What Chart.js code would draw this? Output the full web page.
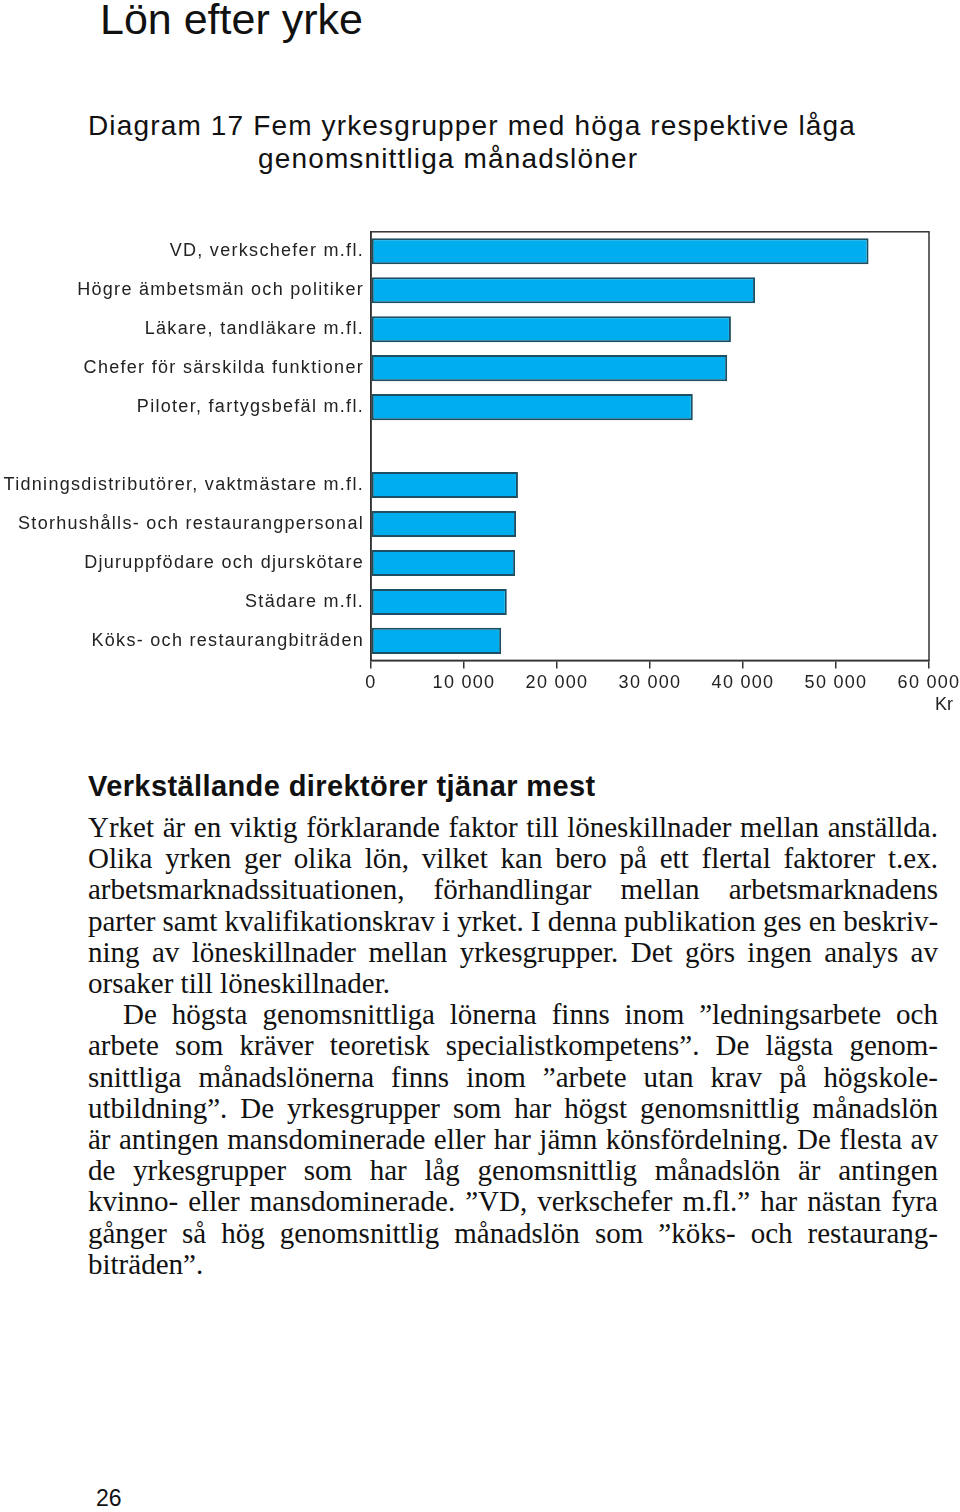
<!DOCTYPE html>
<html lang="sv">
<head>
<meta charset="utf-8">
<script src="https://cdn.jsdelivr.net/npm/chart.js@4/dist/chart.umd.min.js"></script>
<style>
  html, body { margin: 0; padding: 0; background: #fff; }
  body { width: 960px; height: 1512px; position: relative; overflow: hidden; color: #111; }
  .abs { position: absolute; white-space: nowrap; }
  #title { left: 100px; top: -5px; font: 43px 'Liberation Sans Narrow', 'Liberation Sans', Arial, sans-serif; color: #111; }
  .cap { font: 28px 'Liberation Sans', Arial, sans-serif; letter-spacing: 1.15px; color: #111; }
  #chartBox { position: absolute; left: 0; top: 214px; width: 960px; height: 484px; }
  #kr { right: 7px; top: 694px; font: 18px 'Liberation Sans', Arial, sans-serif; color: #222; }
  #head { left: 88px; top: 770px; font: bold 29px 'Liberation Sans', Arial, sans-serif; letter-spacing: 0.4px; color: #111; }
  #text { position: absolute; left: 88px; top: 812px; width: 850px; font: 29px 'Liberation Serif', 'DejaVu Serif', serif; line-height: 31.2px; color: #111; }
  .ln { white-space: nowrap; text-align: justify; text-align-last: justify; }
  .ln.last { text-align-last: left; }
  .ln.ind { padding-left: 35px; }
  #page { left: 96px; top: 1485px; font: 23px 'Liberation Sans', Arial, sans-serif; color: #111; }
</style>
</head>
<body>
<div id="title" class="abs">Lön efter yrke</div>
<div class="abs cap" style="left:88px; top:110px;">Diagram 17 Fem yrkesgrupper med höga respektive låga</div>
<div class="abs cap" style="left:258px; top:143px;">genomsnittliga månadslöner</div>

<div id="chartBox"><canvas id="lonChart"></canvas></div>
<div id="kr" class="abs">Kr</div>

<div id="head" class="abs">Verkställande direktörer tjänar mest</div>
<div id="text">
  <div class="ln"><span>Yrket är en viktig förklarande faktor till löneskillnader mellan anställda.</span></div>
  <div class="ln"><span>Olika yrken ger olika lön, vilket kan bero på ett flertal faktorer t.ex.</span></div>
  <div class="ln"><span>arbetsmarknadssituationen, förhandlingar mellan arbetsmarknadens</span></div>
  <div class="ln"><span>parter samt kvalifikationskrav i yrket. I denna publikation ges en beskriv-</span></div>
  <div class="ln"><span>ning av löneskillnader mellan yrkesgrupper. Det görs ingen analys av</span></div>
  <div class="ln last"><span>orsaker till löneskillnader.</span></div>
  <div class="ln ind"><span>De högsta genomsnittliga lönerna finns inom ”ledningsarbete och</span></div>
  <div class="ln"><span>arbete som kräver teoretisk specialistkompetens”. De lägsta genom-</span></div>
  <div class="ln"><span>snittliga månadslönerna finns inom ”arbete utan krav på högskole-</span></div>
  <div class="ln"><span>utbildning”. De yrkesgrupper som har högst genomsnittlig månadslön</span></div>
  <div class="ln"><span>är antingen mansdominerade eller har jämn könsfördelning. De flesta av</span></div>
  <div class="ln"><span>de yrkesgrupper som har låg genomsnittlig månadslön är antingen</span></div>
  <div class="ln"><span>kvinno- eller mansdominerade. ”VD, verkschefer m.fl.” har nästan fyra</span></div>
  <div class="ln"><span>gånger så hög genomsnittlig månadslön som ”köks- och restaurang-</span></div>
  <div class="ln last"><span>biträden”.</span></div>
</div>
<div id="page" class="abs">26</div>

<script>
// yrkesgrupper, tom rad mellan höga och låga
const yrken = [
  'VD, verkschefer m.fl.',
  'Högre ämbetsmän och politiker',
  'Läkare, tandläkare m.fl.',
  'Chefer för särskilda funktioner',
  'Piloter, fartygsbefäl m.fl.',
  '',
  'Tidningsdistributörer, vaktmästare m.fl.',
  'Storhushålls- och restaurangpersonal',
  'Djuruppfödare och djurskötare',
  'Städare m.fl.',
  'Köks- och restaurangbiträden'
];
// genomsnittlig månadslön, kr
const manadslon = [53500, 41300, 38700, 38300, 34600, null, 15800, 15600, 15500, 14600, 14000];
const xTicks = [0, 10000, 20000, 30000, 40000, 50000, 60000];

const fmt = v => String(v).replace(/\B(?=(\d{3})+(?!\d))/g, ' ');

// ram runt diagramytan + lite glesare text som i originalet
const framePlugin = {
  id: 'frame',
  beforeLayout(chart) { chart.ctx.letterSpacing = '1.3px'; },
  beforeDraw(chart) { chart.ctx.letterSpacing = '1.3px'; },
  afterDraw(chart) {
    const { ctx, chartArea: a } = chart;
    ctx.save();
    ctx.strokeStyle = '#333';
    ctx.lineWidth = 1.5;
    ctx.strokeRect(a.left, a.top, a.right - a.left, a.bottom - a.top);
    ctx.restore();
  }
};

window.onload = function() {
  // justera textrader till full bredd
  document.querySelectorAll('#text .ln').forEach(ln => {
    const span = ln.querySelector('span');
    const avail = ln.clientWidth - (ln.classList.contains('ind') ? 35 : 0);
    const w = span.getBoundingClientRect().width;
    if (w > avail) span.style.letterSpacing = ((avail - w) / span.textContent.length) + 'px';
  });

  new Chart(document.getElementById('lonChart').getContext('2d'), {
    type: 'bar',
    data: {
      labels: yrken,
      datasets: [{
        data: manadslon,
        backgroundColor: '#00aeef',
        borderColor: '#1d4f63',
        borderWidth: 2,
        borderSkipped: false,
        barPercentage: 0.67,
        categoryPercentage: 1
      }]
    },
    plugins: [framePlugin],
    options: {
      indexAxis: 'y',
      responsive: true,
      maintainAspectRatio: false,
      animation: false,
      layout: { padding: { top: 6, left: 0, right: 0, bottom: 0 } },
      plugins: { legend: { display: false }, tooltip: { enabled: false } },
      scales: {
        x: {
          min: 0, max: 60000,
          afterBuildTicks: s => { s.ticks = xTicks.map(v => ({ value: v })); },
          afterFit: s => { s.paddingRight = 31; },
          grid: { display: true, drawOnChartArea: false, drawTicks: true, tickLength: 8, color: '#333', lineWidth: 1.5 },
          border: { display: true, color: '#333', width: 1.5 },
          ticks: { color: '#222', padding: 4, maxRotation: 0, font: { family: "'Liberation Sans', Arial, sans-serif", size: 18 }, callback: v => fmt(v) }
        },
        y: {
          afterFit: s => { s.width = 371; },
          grid: { display: false, drawTicks: false },
          border: { display: true, color: '#333', width: 1.5 },
          ticks: { color: '#222', padding: 7, autoSkip: false, font: { family: "'Liberation Sans', Arial, sans-serif", size: 18 } }
        }
      }
    }
  });
};
</script>
</body>
</html>
